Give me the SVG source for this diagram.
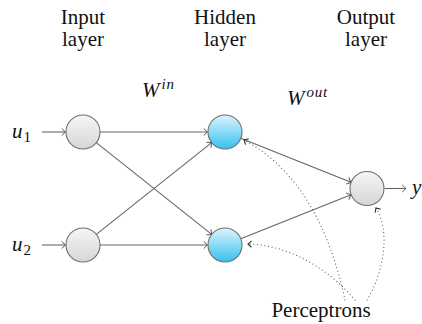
<svg xmlns="http://www.w3.org/2000/svg" width="422" height="324" viewBox="0 0 422 324">
<style>
.t{font-family:'Liberation Serif',serif;font-size:21px;fill:#111}
.m{font-family:'Liberation Serif',serif;font-style:italic;font-size:21px;fill:#111}
.sup{font-size:15px;letter-spacing:0.8px}
.sub{font-style:normal;font-size:15px}
.e{stroke:#666;stroke-width:1.1;fill:none;marker-end:url(#arr)}
.d{stroke:#555;stroke-width:1.1;fill:none;stroke-dasharray:0.1 3.6;stroke-linecap:round;marker-end:url(#arrd)}
.g{fill:url(#gray);stroke:#707070;stroke-width:1.1}
.b{fill:url(#blue);stroke:#707070;stroke-width:1.1}
</style>
<defs>
<linearGradient id="gray" x1="0" y1="0" x2="0" y2="1">
<stop offset="0" stop-color="#f6f6f6"/>
<stop offset="1" stop-color="#d6d6d6"/>
</linearGradient>
<linearGradient id="blue" x1="0" y1="0" x2="0" y2="1">
<stop offset="0" stop-color="#dcf4fc"/>
<stop offset="1" stop-color="#36c0f0"/>
</linearGradient>
<marker id="arr" markerUnits="userSpaceOnUse" markerWidth="10" markerHeight="10" viewBox="-5 -5 10 10" refX="0" refY="0" orient="auto" overflow="visible">
<path d="M-3.8,-3.6 Q-1,-0.8 0,0 Q-1,0.8 -3.8,3.6" fill="none" stroke="#555" stroke-width="1"/>
</marker>
<marker id="arrd" markerUnits="userSpaceOnUse" markerWidth="10" markerHeight="10" viewBox="-5 -5 10 10" refX="0" refY="0" orient="auto" overflow="visible">
<path d="M-3.5,-3.3 Q-1,-0.8 0,0 Q-1,0.8 -3.5,3.3" fill="none" stroke="#222" stroke-width="1"/>
</marker>
</defs>

<g id="headers">
<text class="t" x="83" y="24" text-anchor="middle">Input</text>
<text class="t" x="83" y="46" text-anchor="middle">layer</text>
<text class="t" x="225" y="24" text-anchor="middle">Hidden</text>
<text class="t" x="225" y="46" text-anchor="middle">layer</text>
<text class="t" x="366" y="24" text-anchor="middle">Output</text>
<text class="t" x="366" y="46" text-anchor="middle">layer</text>
</g>

<g id="weights">
<text class="m" x="142" y="97">W<tspan class="sup" dx="2" dy="-8">in</tspan></text>
<text class="m" x="287" y="105">W<tspan class="sup" dx="2" dy="-8">out</tspan></text>
</g>

<g id="connectors">
<path class="e" d="M42,132 L65.5,132"/>
<path class="e" d="M42,245 L65.5,245"/>
<path class="e" d="M100,132 L207.5,132"/>
<path class="e" d="M100,245 L207.5,245"/>
<path class="e" d="M96.3,142.6 L211.7,234.4"/>
<path class="e" d="M96.3,234.4 L211.7,142.6"/>
<path class="e" d="M240.8,138.3 L351,182.2"/>
<path class="e" d="M240.8,238.7 L351,194.8"/>
<path class="e" d="M384.5,188.5 L406,188.5"/>
<path class="d" d="M345,300 C330,230 300,170 244,140"/>
<path class="d" d="M355,300 C330,270 290,245 248,244"/>
<path class="d" d="M367,300 C385,270 390,230 376,208"/>
</g>

<g id="input1"><circle class="g" cx="83" cy="132" r="17"/></g>
<g id="input2"><circle class="g" cx="83" cy="245" r="17"/></g>
<g id="hidden1"><circle class="b" cx="225" cy="132" r="17"/></g>
<g id="hidden2"><circle class="b" cx="225" cy="245" r="17"/></g>
<g id="output"><circle class="g" cx="367" cy="188.5" r="17"/></g>

<g id="labels">
<text class="m" x="12" y="138">u<tspan class="sub" dx="1" dy="4">1</tspan></text>
<text class="m" x="12" y="251">u<tspan class="sub" dx="1" dy="4">2</tspan></text>
<text class="m" x="412" y="194">y</text>
<text class="t" x="321" y="317" text-anchor="middle">Perceptrons</text>
</g>
</svg>
